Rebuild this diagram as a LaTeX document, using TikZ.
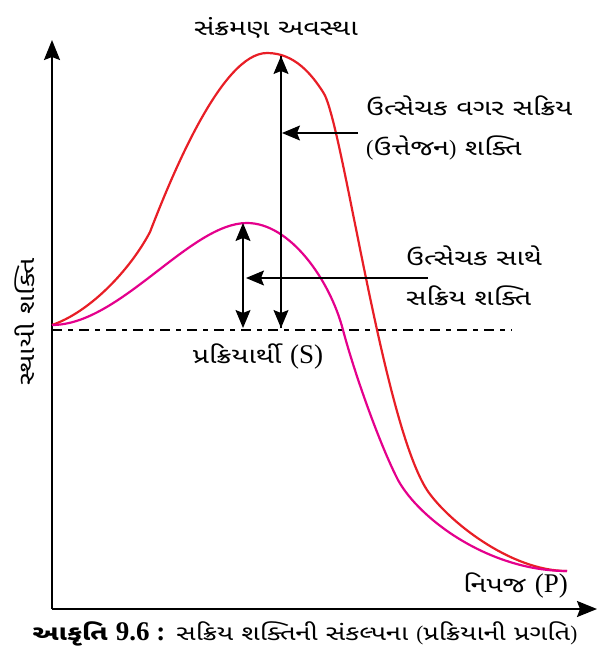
\documentclass[tikz,border=0pt]{standalone}
\usepackage{fontspec}
\setmainfont{Liberation Serif}
\newfontfamily\guj[Script=Gujarati,FakeStretch=1.3]{Noto Sans Gujarati UI}
\usetikzlibrary{arrows.meta}
\definecolor{curvered}{RGB}{232,30,38}
\definecolor{curvemag}{RGB}{228,0,140}
\newcommand{\lat}[1]{{\rmfamily\fontsize{27}{30}\selectfont #1}}
\tikzset{
  axis/.style={line width=2pt,-{Stealth[length=20pt,width=16pt,inset=3pt]}},
  arr/.style={line width=1.2pt,-{Stealth[length=18pt,width=15pt,inset=3pt]}},
  darr/.style={line width=1.2pt,{Stealth[length=18pt,width=15pt,inset=3pt]}-{Stealth[length=18pt,width=15pt,inset=3pt]}},
  lbl/.style={inner sep=0pt,font=\fontsize{22}{26}\selectfont\guj},
  redc/.style={curvered,line width=2.2pt},
  magc/.style={curvemag,line width=2.2pt},
  base/.style={line width=1.1pt,dash pattern=on 10pt off 6pt on 5pt off 6pt}
}
\begin{document}
\begin{tikzpicture}[x=1pt,y=-1pt]
\useasboundingbox (0,0) rectangle (597,648);
% axes
\coordinate (O) at (52,609);
\coordinate (ytop) at (52,40);
\coordinate (xend) at (597,609);
\draw[axis] (O) -- (ytop);
\draw[axis] (O) -- (xend);
% baseline
\coordinate (bl) at (52,330);
\coordinate (br) at (512,330);
\draw[base] (bl) -- (br);
% curves
\draw[redc] (52,325) .. controls (90,312) and (130,270) .. (150,232)
  .. controls (172,175) and (222,53) .. (267,53)
  .. controls (295,53) and (312,75) .. (323,92)
  .. controls (342,118) and (382,420) .. (427,490)
  .. controls (447,520) and (510,571) .. (567,571);
\draw[magc] (52,325) .. controls (120,325) and (190,223) .. (247,223)
  .. controls (290,223) and (330,280) .. (343,330)
  .. controls (355,375) and (380,445) .. (398,480)
  .. controls (420,520) and (490,571) .. (567,571);
% arrows
\coordinate (pkR) at (281,56);
\coordinate (pkRb) at (281,328);
\coordinate (pkM) at (243,223);
\coordinate (pkMb) at (243,328);
\draw[arr] (pkRb) -- (pkR);
\draw[arr] (pkR) -- (pkRb);
\draw[darr] (pkMb) -- (pkM);
\coordinate (a1s) at (358,133);
\coordinate (a1e) at (282,133);
\draw[arr] (a1s) -- (a1e);
\coordinate (a2s) at (428,278);
\coordinate (a2e) at (246,278);
\draw[arr] (a2s) -- (a2e);
% labels
\node[lbl] (ts) at (276,28) {સંક્રમણ અવસ્થા};
\node[lbl,anchor=west] (t1) at (366,106) {ઉત્સેચક વગર સક્રિય};
\node[lbl,anchor=west] (t2) at (366,148) {{\rmfamily(}ઉત્તેજન{\rmfamily)} શક્તિ};
\node[lbl,anchor=west] (t3) at (406,256) {ઉત્સેચક સાથે};
\node[lbl,anchor=west] (t4) at (406,296) {સક્રિય શક્તિ};
\node[lbl] (ts2) at (258,357) {પ્રક્રિયાર્થી \lat{(S)}};
\node[lbl,anchor=east] (tp) at (568,586) {નિપજ \lat{(P)}};
\node[lbl,rotate=90] (ty) at (25,322) {સ્થાયી શક્તિ};
\node[lbl,font=\fontsize{21}{25}\selectfont\guj] (cap) at (305,634) {{\bfseries આકૃતિ \lat{\bfseries 9.6 :}} સક્રિય શક્તિની સંકલ્પના {\rmfamily(}પ્રક્રિયાની પ્રગતિ{\rmfamily)}};
\end{tikzpicture}
\end{document}
